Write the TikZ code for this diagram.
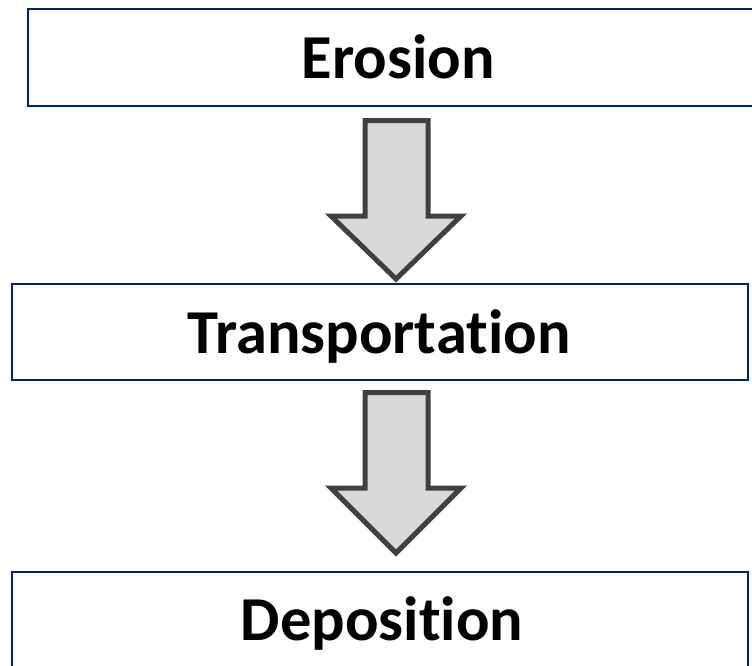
\documentclass[tikz,border=0pt]{standalone}
\usepackage{fontspec}
\setmainfont{Carlito}[RawFeature={-liga;-clig;-dlig}]
\definecolor{navy}{RGB}{0,32,96}
\definecolor{arrowfill}{RGB}{217,217,217}
\definecolor{arrowline}{RGB}{64,64,64}
\begin{document}
\begin{tikzpicture}[x=1pt,y=-1pt,
  box/.style={draw=navy,line width=2.6pt,fill=white},
  label/.style={font=\fontsize{62.5}{70}\selectfont\bfseries,anchor=base,inner sep=0pt},
  blockarrow/.style={draw=arrowline,fill=arrowfill,line width=5pt,line join=miter}]
\useasboundingbox (0,0) rectangle (752,665);
\path[box] (28,9) rectangle (770,106);
\path[box] (12,284) rectangle (748,380);
\path[box] (12,572) rectangle (748,690);
\node[label] (t1) at (398,78) {Erosion};
\node[label] (t2) at (379,353) {Transportation};
\node[label] (t3) at (382,640) {Deposition};
\path[blockarrow] (365,120.5) -- (428,120.5) -- (428,216) -- (461,216) -- (396,279) -- (331,216) -- (365,216) -- cycle;
\path[blockarrow] (365,392.5) -- (428,392.5) -- (428,488) -- (461,488) -- (396,553) -- (331,488) -- (365,488) -- cycle;
\end{tikzpicture}
\end{document}
